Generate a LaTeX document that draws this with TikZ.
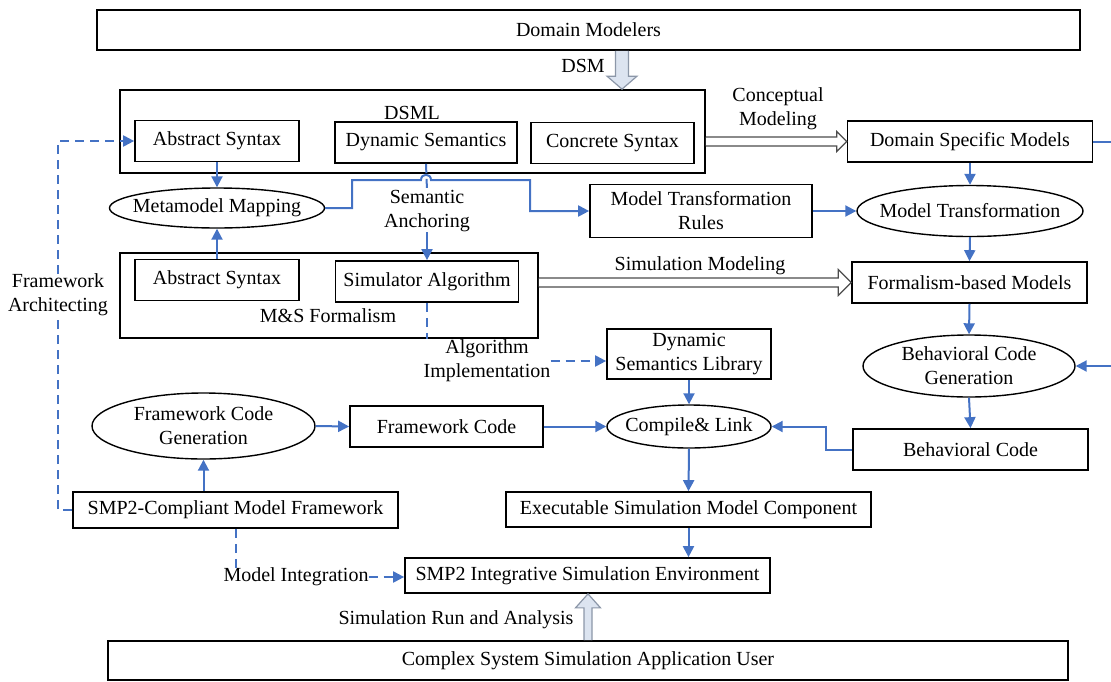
\documentclass[tikz,border=0pt]{standalone}
\usepackage{fontspec}
\setmainfont{Liberation Serif}
\usetikzlibrary{arrows.meta,shapes.geometric,calc}
\definecolor{lblue}{HTML}{4472C4}
\definecolor{hfill}{HTML}{DCE4F0}
\definecolor{hline}{HTML}{8C97A8}
\begin{document}
\begin{tikzpicture}[x=1pt,y=-1pt, font=\fontsize{20}{24}\selectfont,
 box/.style={draw=black,line width=1.7pt,inner sep=0pt,align=center},
 ell/.style={ellipse,draw=black,line width=1.4pt,inner sep=0pt},
 lbl/.style={inner sep=0pt,align=center},
 barrow/.style={draw=lblue,line width=2pt,-{Triangle[length=11pt,width=11pt]}},
 bdash/.style={draw=lblue,line width=2pt,dash pattern=on 9pt off 6pt},
 bdasharrow/.style={bdash,-{Triangle[length=11pt,width=11pt]}},
 hollowblue/.style={draw=hline,fill=hfill,line width=1.2pt},
 hollowwhite/.style={draw=black!70,fill=white,line width=1.2pt}]
\useasboundingbox (0,0) rectangle (1111,681);

% boxes
\node[box,minimum width=983pt,minimum height=40pt] (dm) at (588.5,30) {Domain Modelers};
\node[box,minimum width=585pt,minimum height=83pt] (dsml) at (412.5,131.5) {};
\node[lbl] (dsmllbl) at (412,113) {DSML};
\node[box,minimum width=164pt,minimum height=41pt] (as1) at (217,141) {Abstract Syntax};
\node[box,minimum width=182pt,minimum height=41pt] (ds) at (426,142.5) {Dynamic Semantics};
\node[box,minimum width=163pt,minimum height=41pt] (cs) at (612.5,143) {Concrete Syntax};
\node[ell,minimum width=215pt,minimum height=40pt] (mm) at (217,208) {};
\node[lbl] (mmt) at (mm) {Metamodel Mapping};
\node[box,minimum width=418pt,minimum height=85pt] (ms) at (329,295.5) {};
\node[lbl] (mslbl) at (328,316) {M\&S Formalism};
\node[box,minimum width=164pt,minimum height=41pt] (as2) at (217,280) {Abstract Syntax};
\node[box,minimum width=183pt,minimum height=41pt] (sa) at (427,281.5) {Simulator Algorithm};
\node[box,minimum width=245pt,minimum height=41pt] (dsmod) at (970,141.5) {Domain Specific Models};
\node[box,minimum width=222pt,minimum height=53pt] (mtr) at (701,211) {Model Transformation\\Rules};
\node[ell,minimum width=226pt,minimum height=51pt] (mt) at (970,211) {};
\node[lbl] (mtt) at (mt) {Model Transformation};
\node[box,minimum width=235pt,minimum height=41pt] (fbm) at (969.5,282.5) {Formalism-based Models};
\node[ell,minimum width=212pt,minimum height=62pt] (bcg) at (969,366) {};
\node[lbl] (bcgt) at (bcg) {Behavioral Code\\Generation};
\node[box,minimum width=235pt,minimum height=41pt] (bc) at (970.5,449.5) {Behavioral Code};
\node[box,minimum width=164pt,minimum height=50pt] (dsl) at (689,354) {Dynamic\\Semantics Library};
\node[ell,minimum width=164pt,minimum height=43pt] (cl) at (689,426.5) {};
\node[lbl] (clt) at (cl) {Compile\& Link};
\node[ell,minimum width=223pt,minimum height=66pt] (fcg) at (203.5,426) {};
\node[lbl] (fcgt) at (fcg) {Framework Code\\Generation};
\node[box,minimum width=193pt,minimum height=41pt] (fc) at (446.5,426.5) {Framework Code};
\node[box,minimum width=325pt,minimum height=36pt] (smp) at (235.5,510) {SMP2-Compliant Model Framework};
\node[box,minimum width=365pt,minimum height=35pt] (esmc) at (688.5,509.5) {Executable Simulation Model Component};
\node[box,minimum width=365pt,minimum height=35pt] (env) at (587.5,575.5) {SMP2 Integrative Simulation Environment};
\node[box,minimum width=960pt,minimum height=39pt] (csu) at (588,660.5) {Complex System Simulation Application User};

% labels
\node[lbl] (dsmlbl) at (583,66) {DSM};
\node[lbl] (cmlbl) at (778,109) {Conceptual\\Modeling};
\node[lbl] (smlbl) at (700,266) {Simulation Modeling};
\node[lbl] (salbl) at (427,211.5) {Semantic\\Anchoring};
\node[lbl] (ailbl) at (487,361) {Algorithm\\Implementation};
\node[lbl] (falbl) at (58,295) {Framework\\Architecting};
\node[lbl] (milbl) at (296,577) {Model Integration};
\node[lbl] (srlbl) at (456,620) {Simulation Run and Analysis};

% hollow arrows
\coordinate (dsmT) at ($(dm.south)+(33.5,0)$);
\coordinate (dsmB) at (dsmT |- dsml.north);
\draw[hollowblue] ($(dsmT)+(-6.5,0)$) -- ($(dsmB)+(-6.5,-13)$) -- ($(dsmB)+(-15,-13)$) -- (dsmB) -- ($(dsmB)+(15,-13)$) -- ($(dsmB)+(6.5,-13)$) -- ($(dsmT)+(6.5,0)$);

\coordinate (cmA) at (dsml.east |- dsmod.west);
\coordinate (cmB) at (dsmod.west);
\draw[hollowwhite] ($(cmA)+(0,-4.5)$) -- ($(cmB)+(-10,-4.5)$) -- ($(cmB)+(-10,-10)$) -- (cmB) -- ($(cmB)+(-10,10)$) -- ($(cmB)+(-10,4.5)$) -- ($(cmA)+(0,4.5)$);

\coordinate (smA) at (ms.east |- fbm.west);
\coordinate (smB) at (fbm.west);
\draw[hollowwhite] ($(smA)+(0,-4.5)$) -- ($(smB)+(-13,-4.5)$) -- ($(smB)+(-13,-13)$) -- (smB) -- ($(smB)+(-13,13)$) -- ($(smB)+(-13,4.5)$) -- ($(smA)+(0,4.5)$);

\coordinate (srA) at (csu.north);
\coordinate (srB) at (srA |- env.south);
\draw[hollowblue] ($(srA)+(-4,0)$) -- ($(srB)+(-4,14)$) -- ($(srB)+(-12.5,14)$) -- (srB) -- ($(srB)+(12.5,14)$) -- ($(srB)+(4,14)$) -- ($(srA)+(4,0)$);

% blue connectors
\draw[barrow] (as1.south) -- (mm.north);
\draw[barrow] (as2.north) -- (mm.south);
\draw[bdash] (ds.south) -- (salbl.north);
\draw[barrow] (salbl.south) -- (sa.north);
\coordinate (mmA) at (352,180);
\coordinate (hopL) at ($(ds.south |- mmA)+(-5,0)$);
\coordinate (hopR) at ($(ds.south |- mmA)+(5,0)$);
\coordinate (mmB) at (530,180);
\draw[barrow] (mm.east) -| (mmA) -- (hopL) .. controls ($(hopL)+(0,-7)$) and ($(hopR)+(0,-7)$) .. (hopR) -- (mmB) |- (mtr.west);
\draw[bdash] (sa.south) -- (sa.south |- ms.south);
\draw[bdasharrow] (ailbl.east) -- (ailbl.east -| dsl.west);
\draw[bdash] (smp.west) -| (falbl.south);
\draw[bdasharrow] (falbl.north) |- (as1.west);
\draw[bdash] (smp.south) -- (smp.south |- milbl.north);
\draw[bdasharrow] (milbl.east) -- (milbl.east -| env.west);

\draw[barrow] (dsmod.south) -- (mt.north);
\draw[barrow] (mt.south) -- (fbm.north);
\draw[barrow] (fbm.south) -- (bcg.north);
\draw[barrow] (bcg.south) -- (bc.north);
\draw[barrow] (mtr.east) -- (mt.west);
\draw[barrow] (dsmod.east) -- ++(40,0) |- (bcg.east);
\draw[barrow] (bc.west) -- ++(-26,0) |- (cl.east);
\draw[barrow] (dsl.south) -- (cl.north);
\draw[barrow] (cl.south) -- (esmc.north);
\draw[barrow] (esmc.south) -- (esmc.south |- env.north);
\draw[barrow] (fc.east) -- (cl.west);
\draw[barrow] (fcg.east) -- (fc.west);
\draw[barrow] (fcg.south |- smp.north) -- (fcg.south);
\end{tikzpicture}
\end{document}
